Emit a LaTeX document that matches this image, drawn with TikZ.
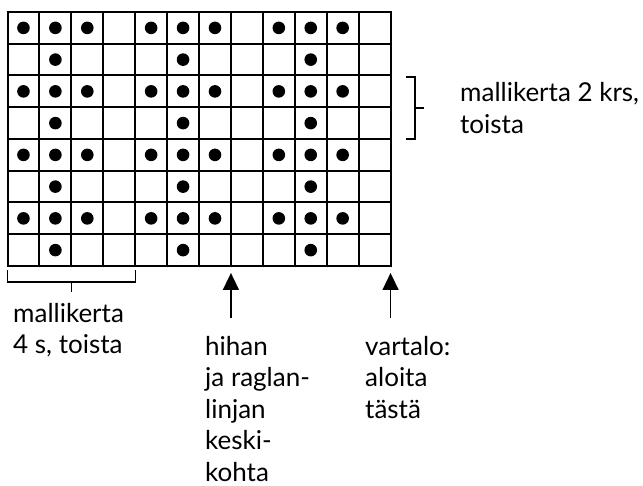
\documentclass[tikz,border=0pt]{standalone}
\usepackage{fontspec}
\setmainfont{Lato}
\usetikzlibrary{arrows.meta}
% stack of lines whose baseline is that of the first line
\newcommand{\textlines}[1]{\vtop{\baselineskip=31.5pt\lineskiplimit=-10pt #1}}
\begin{document}
\begin{tikzpicture}[x=1pt,y=-1pt,
  gridline/.style={line width=2pt},
  stitch/.style={fill=black},
  bracket/.style={line width=1.3pt},
  pointer/.style={line width=1.6pt,-{Triangle[width=16pt,length=17pt]}},
  label/.style={anchor=base west,inner sep=0pt,
    font=\fontsize{26}{31.5}\selectfont}]
\useasboundingbox (0,0) rectangle (643,486);
% chart geometry
\def\gx{7.5}\def\gy{12}\def\cw{31.92}\def\ch{31.75}
% grid lines
\foreach \i in {0,...,12}
  \draw[gridline] (\gx+\i*\cw,\gy) -- (\gx+\i*\cw,\gy+8*\ch);
\foreach \j in {0,...,8}
  \draw[gridline] (\gx-1,\gy+\j*\ch) -- (\gx+12*\cw+1,\gy+\j*\ch);
% stitches: odd rows three dots per repeat, even rows one dot
\foreach \r in {0,2,4,6}
  \foreach \c in {0,1,2,4,5,6,8,9,10}
    \fill[stitch] (\gx+\c*\cw+0.5*\cw,\gy+\r*\ch+0.5*\ch) circle (6.3pt);
\foreach \r in {1,3,5,7}
  \foreach \c in {1,5,9}
    \fill[stitch] (\gx+\c*\cw+0.5*\cw,\gy+\r*\ch+0.5*\ch) circle (6.3pt);
% row repeat bracket
\draw[bracket] (406,77) -- (415,77) -- (415,139) -- (406,139);
\draw[bracket] (415,108) -- (424,108);
\node[label] (rowrep) at (460,101.7)
  {\textlines{\hbox{mallikerta 2 krs,}\hbox{toista}}};
% stitch repeat bracket
\draw[bracket] (7.5,270) -- (7.5,282) -- (135.5,282) -- (135.5,270);
\draw[bracket] (71.5,282) -- (71.5,292);
\node[label] (strep) at (13,322.5)
  {\textlines{\hbox{mallikerta}\hbox{4 s, toista}}};
% markers below the chart
\coordinate (ctrtip) at (\gx+7*\cw,273);
\coordinate (ctrtail) at (\gx+7*\cw,318);
\coordinate (bodytip) at (\gx+12*\cw,273);
\coordinate (bodytail) at (\gx+12*\cw,318);
\draw[pointer] (ctrtail) -- (ctrtip);
\draw[pointer] (bodytail) -- (bodytip);
\node[label] (ctr) at (205,355.5)
  {\textlines{\hbox{hihan}\hbox{ja raglan-}\hbox{linjan}\hbox{keski-}\hbox{kohta}}};
\node[label] (body) at (365,355.5)
  {\textlines{\hbox{vartalo:}\hbox{aloita}\hbox{tästä}}};
\end{tikzpicture}
\end{document}
